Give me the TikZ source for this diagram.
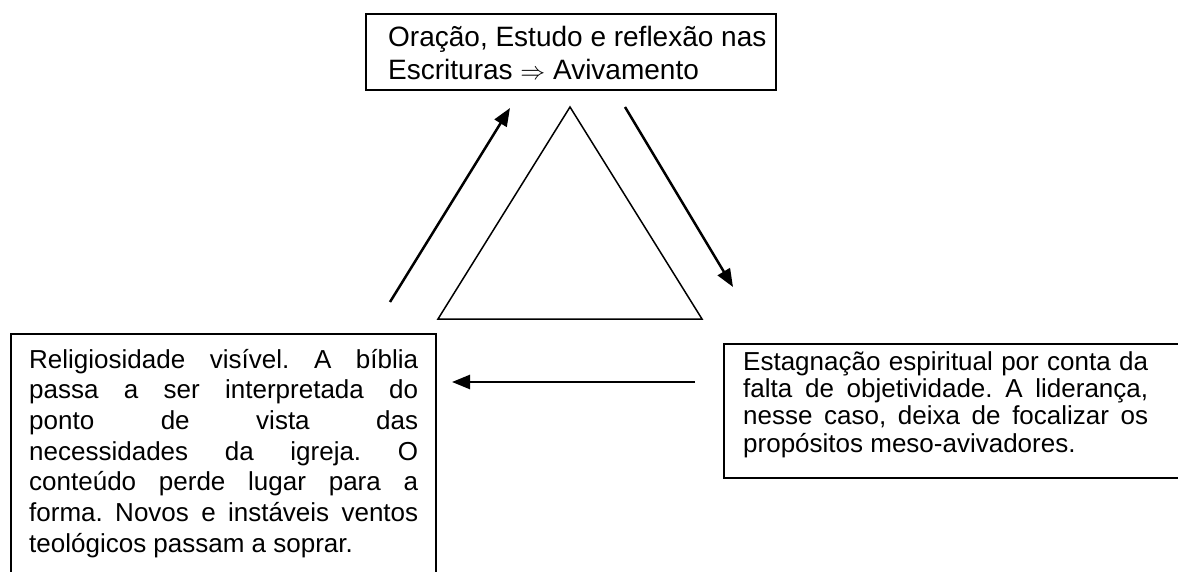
\documentclass[tikz,border=0pt]{standalone}
\usepackage{fontspec}
\setmainfont{Liberation Sans}
\usetikzlibrary{arrows.meta}
\frenchspacing
\begin{document}
\begin{tikzpicture}[x=1pt,y=-1pt,
  frame/.style={draw, line width=1.8pt, inner sep=0pt, anchor=north west},
  arr/.style={line width=2.5pt, -{Triangle[length=18pt,width=14pt]}},
  txt/.style={inner sep=0pt, anchor=base west}]
\useasboundingbox (0,0) rectangle (1178,572);
\clip (0,0) rectangle (1178,572);
% boxes
\node[frame, minimum width=410pt, minimum height=76pt] (topbox) at (365,13) {};
\node[frame, minimum width=425pt, minimum height=270pt] (leftbox) at (10,333) {};
\node[frame, minimum width=480pt, minimum height=134pt] (rightbox) at (723,343) {};
% texts
\node[txt] (toptext) at (388,47) {\parbox[t]{386pt}{\raggedright\fontsize{28}{33}\selectfont Oração, Estudo e reflexão nas\\Escrituras {\fontsize{31}{33}\selectfont$\Rightarrow$} Avivamento}};
\node[txt] (lefttext) at (29,368) {\parbox[t]{389pt}{\fontsize{26}{30.7}\selectfont\tolerance=10000\hbadness=10000\hyphenpenalty=10000 Religiosidade visível. A bíblia\linebreak passa a ser interpretada do\linebreak ponto de vista das\linebreak necessidades da igreja. O\linebreak conteúdo perde lugar para a\linebreak forma. Novos e instáveis ventos\linebreak teológicos passam a soprar.}};
\node[txt] (righttext) at (743,370) {\parbox[t]{405pt}{\fontsize{26}{27.4}\selectfont\tolerance=10000\hbadness=10000\hyphenpenalty=10000 Estagnação espiritual por conta da\linebreak falta de objetividade. A liderança,\linebreak nesse caso, deixa de focalizar os\linebreak propósitos meso-avivadores.}};
% triangle
\coordinate (tA) at (570,107);
\coordinate (tB) at (702,319);
\coordinate (tC) at (438,319);
\draw[line width=1.5pt, line join=miter] (tA) -- (tB) -- (tC) -- cycle;
% arrows
\coordinate (a1s) at (390,302); \coordinate (a1e) at (510,108);
\coordinate (a2s) at (625,107); \coordinate (a2e) at (733,287);
\coordinate (a3s) at (695,382); \coordinate (a3e) at (452,382);
\draw[arr] (a1s) -- (a1e);
\draw[arr] (a2s) -- (a2e);
\draw[arr] (a3s) -- (a3e);
\end{tikzpicture}
\end{document}
